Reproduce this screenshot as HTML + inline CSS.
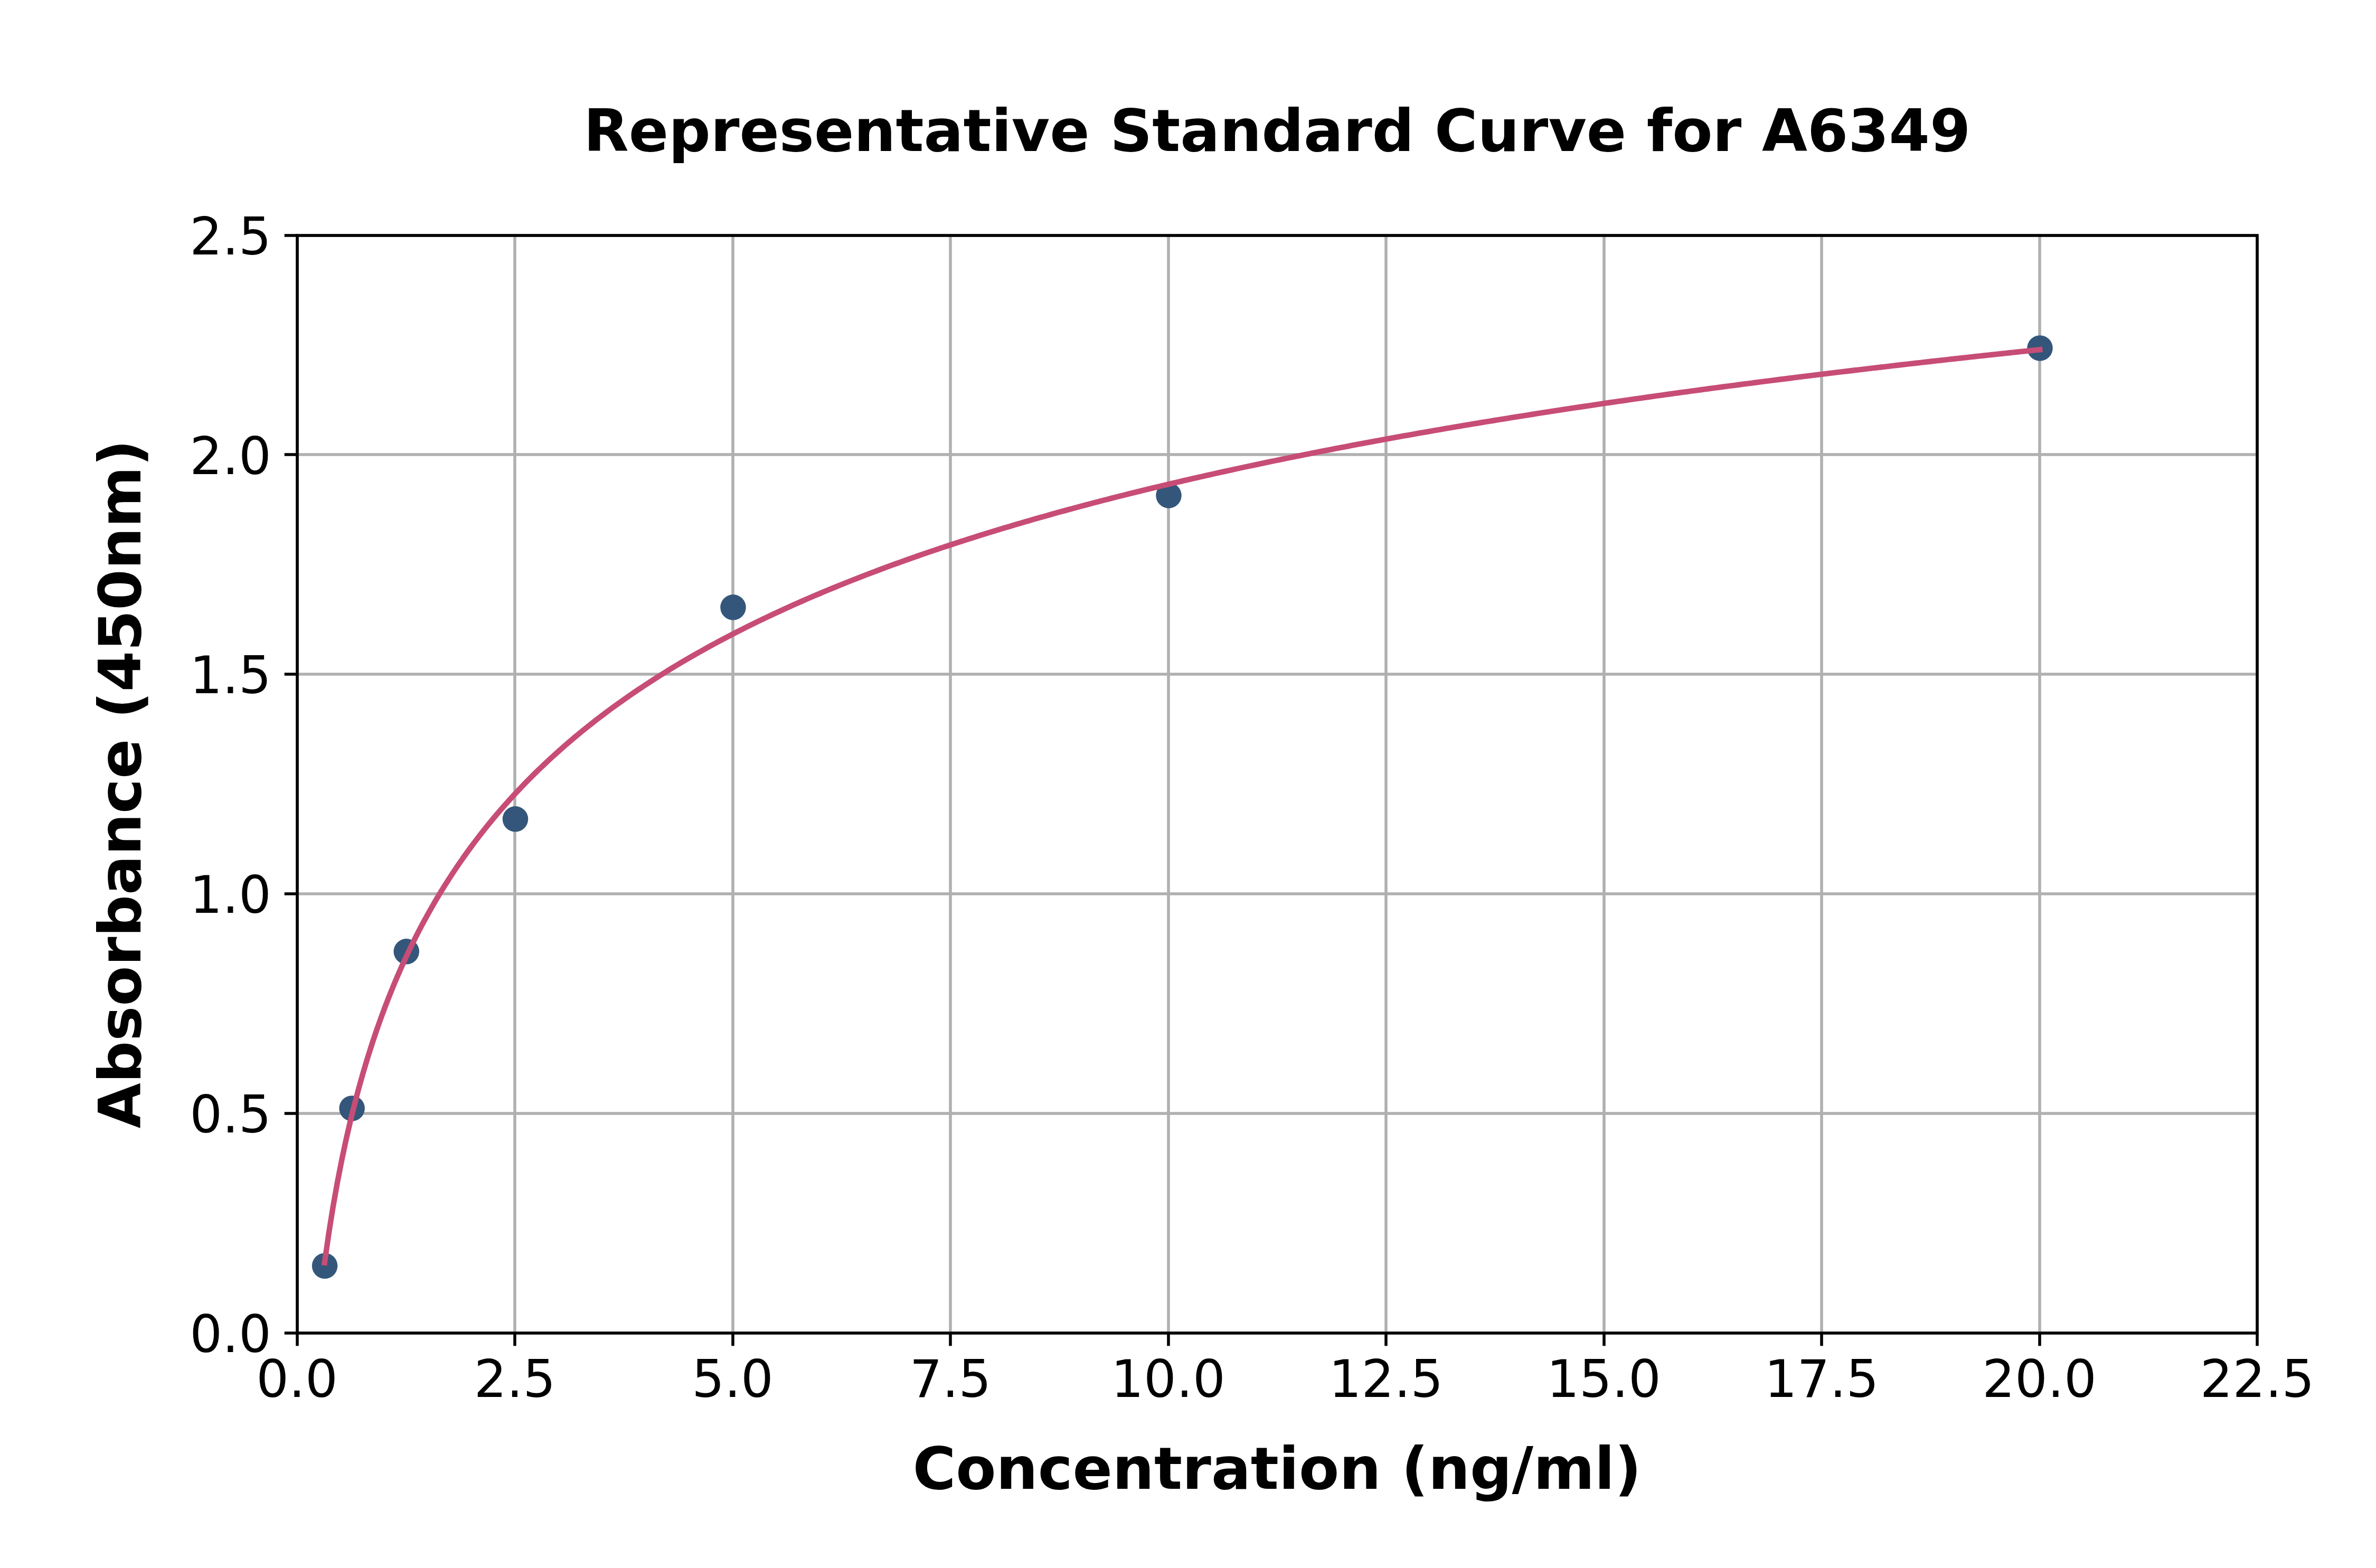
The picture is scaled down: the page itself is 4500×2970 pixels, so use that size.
<!DOCTYPE html>
<html lang="en"><head><meta charset="utf-8"><title>Representative Standard Curve for A6349</title>
<style>html,body{margin:0;padding:0;background:#fff;}body{width:4500px;height:2970px;overflow:hidden;}svg{display:block;}text{font-family:"DejaVu Sans","Liberation Sans",sans-serif;fill:#000;}.tk{font-size:97.22px;}.b{font-size:111.11px;font-weight:bold;}</style></head><body>
<svg width="4500" height="2970" viewBox="0 0 4500 2970">
<rect width="4500" height="2970" fill="#fff"/>
<g stroke="#b0b0b0" stroke-width="5.56" fill="none">
<line x1="563" y1="445.5" x2="563" y2="2524.5"/>
<line x1="975" y1="445.5" x2="975" y2="2524.5"/>
<line x1="1388" y1="445.5" x2="1388" y2="2524.5"/>
<line x1="1800" y1="445.5" x2="1800" y2="2524.5"/>
<line x1="2213" y1="445.5" x2="2213" y2="2524.5"/>
<line x1="2625" y1="445.5" x2="2625" y2="2524.5"/>
<line x1="3038" y1="445.5" x2="3038" y2="2524.5"/>
<line x1="3450" y1="445.5" x2="3450" y2="2524.5"/>
<line x1="3863" y1="445.5" x2="3863" y2="2524.5"/>
<line x1="4275" y1="445.5" x2="4275" y2="2524.5"/>
<line x1="562.5" y1="2525" x2="4275" y2="2525"/>
<line x1="562.5" y1="2109" x2="4275" y2="2109"/>
<line x1="562.5" y1="1693" x2="4275" y2="1693"/>
<line x1="562.5" y1="1277" x2="4275" y2="1277"/>
<line x1="562.5" y1="861" x2="4275" y2="861"/>
<line x1="562.5" y1="446" x2="4275" y2="446"/>
</g>
<g fill="#34567a">
<circle cx="615.06" cy="2397.76" r="24.25"/>
<circle cx="666.62" cy="2099.39" r="24.25"/>
<circle cx="769.75" cy="1802.34" r="24.25"/>
<circle cx="976.00" cy="1551.36" r="24.25"/>
<circle cx="1388.50" cy="1150.36" r="24.25"/>
<circle cx="2213.50" cy="938.47" r="24.25"/>
<circle cx="3863.50" cy="659.47" r="24.25"/>
</g>
<polyline points="614.76,2391.57 622.90,2334.71 631.05,2284.07 639.19,2238.41 647.33,2196.82 655.47,2158.61 663.61,2123.28 671.75,2090.43 679.89,2059.72 688.04,2030.90 696.18,2003.75 704.32,1978.08 712.46,1953.75 720.60,1930.62 728.74,1908.59 736.88,1887.55 745.03,1867.42 753.17,1848.13 761.31,1829.62 769.45,1811.82 777.59,1794.68 785.73,1778.15 793.87,1762.21 802.02,1746.80 810.16,1731.89 818.30,1717.46 826.44,1703.47 834.58,1689.90 842.72,1676.73 850.86,1663.94 859.01,1651.49 867.15,1639.39 875.29,1627.60 883.43,1616.12 891.57,1604.93 899.71,1594.01 907.85,1583.35 916.00,1572.95 924.14,1562.79 932.28,1552.86 940.42,1543.14 948.56,1533.64 956.70,1524.35 964.84,1515.24 972.99,1506.33 981.13,1497.59 989.27,1489.03 997.41,1480.63 1005.55,1472.40 1013.69,1464.32 1021.83,1456.39 1029.98,1448.61 1038.12,1440.96 1046.26,1433.46 1054.40,1426.08 1062.54,1418.83 1070.68,1411.70 1078.83,1404.69 1086.97,1397.79 1095.11,1391.01 1103.25,1384.34 1111.39,1377.77 1119.53,1371.30 1127.67,1364.93 1135.82,1358.66 1143.96,1352.48 1152.10,1346.40 1160.24,1340.40 1168.38,1334.49 1176.52,1328.66 1184.66,1322.91 1192.81,1317.25 1200.95,1311.66 1209.09,1306.15 1217.23,1300.71 1225.37,1295.34 1233.51,1290.05 1241.65,1284.82 1249.80,1279.66 1257.94,1274.56 1266.08,1269.53 1274.22,1264.57 1282.36,1259.66 1290.50,1254.81 1298.64,1250.02 1306.79,1245.29 1314.93,1240.61 1323.07,1235.99 1331.21,1231.42 1339.35,1226.91 1347.49,1222.44 1355.63,1218.03 1363.78,1213.66 1371.92,1209.34 1380.06,1205.07 1388.20,1200.85 1396.34,1196.67 1404.48,1192.54 1412.62,1188.45 1420.77,1184.40 1428.91,1180.40 1437.05,1176.43 1445.19,1172.51 1453.33,1168.62 1461.47,1164.78 1469.61,1160.97 1477.76,1157.20 1485.90,1153.47 1494.04,1149.77 1502.18,1146.11 1510.32,1142.48 1518.46,1138.89 1526.60,1135.33 1534.75,1131.81 1542.89,1128.31 1551.03,1124.85 1559.17,1121.42 1567.31,1118.03 1575.45,1114.66 1583.59,1111.32 1591.74,1108.01 1599.88,1104.73 1608.02,1101.48 1616.16,1098.26 1624.30,1095.07 1632.44,1091.90 1640.58,1088.76 1648.73,1085.65 1656.87,1082.56 1665.01,1079.50 1673.15,1076.46 1681.29,1073.45 1689.43,1070.46 1697.58,1067.49 1705.72,1064.55 1713.86,1061.64 1722.00,1058.74 1730.14,1055.87 1738.28,1053.03 1746.42,1050.20 1754.57,1047.40 1762.71,1044.61 1770.85,1041.85 1778.99,1039.11 1787.13,1036.39 1795.27,1033.69 1803.41,1031.01 1811.56,1028.35 1819.70,1025.71 1827.84,1023.09 1835.98,1020.49 1844.12,1017.91 1852.26,1015.34 1860.40,1012.80 1868.55,1010.27 1876.69,1007.76 1884.83,1005.26 1892.97,1002.79 1901.11,1000.33 1909.25,997.89 1917.39,995.47 1925.54,993.06 1933.68,990.67 1941.82,988.29 1949.96,985.93 1958.10,983.59 1966.24,981.26 1974.38,978.95 1982.53,976.65 1990.67,974.37 1998.81,972.10 2006.95,969.85 2015.09,967.61 2023.23,965.38 2031.37,963.17 2039.52,960.98 2047.66,958.79 2055.80,956.62 2063.94,954.47 2072.08,952.33 2080.22,950.20 2088.36,948.08 2096.51,945.98 2104.65,943.89 2112.79,941.81 2120.93,939.75 2129.07,937.70 2137.21,935.66 2145.35,933.63 2153.50,931.61 2161.64,929.61 2169.78,927.62 2177.92,925.64 2186.06,923.67 2194.20,921.71 2202.34,919.76 2210.49,917.83 2218.63,915.90 2226.77,913.99 2234.91,912.09 2243.05,910.19 2251.19,908.31 2259.33,906.44 2267.48,904.58 2275.62,902.73 2283.76,900.89 2291.90,899.06 2300.04,897.24 2308.18,895.43 2316.32,893.63 2324.47,891.84 2332.61,890.06 2340.75,888.28 2348.89,886.52 2357.03,884.77 2365.17,883.03 2373.32,881.29 2381.46,879.56 2389.60,877.85 2397.74,876.14 2405.88,874.44 2414.02,872.75 2422.16,871.07 2430.31,869.40 2438.45,867.73 2446.59,866.07 2454.73,864.43 2462.87,862.79 2471.01,861.16 2479.15,859.53 2487.30,857.92 2495.44,856.31 2503.58,854.71 2511.72,853.12 2519.86,851.53 2528.00,849.96 2536.14,848.39 2544.29,846.83 2552.43,845.28 2560.57,843.73 2568.71,842.19 2576.85,840.66 2584.99,839.13 2593.13,837.62 2601.28,836.11 2609.42,834.60 2617.56,833.11 2625.70,831.62 2633.84,830.14 2641.98,828.66 2650.12,827.19 2658.27,825.73 2666.41,824.28 2674.55,822.83 2682.69,821.39 2690.83,819.95 2698.97,818.52 2707.11,817.10 2715.26,815.68 2723.40,814.27 2731.54,812.87 2739.68,811.47 2747.82,810.08 2755.96,808.70 2764.10,807.32 2772.25,805.94 2780.39,804.58 2788.53,803.21 2796.67,801.86 2804.81,800.51 2812.95,799.17 2821.09,797.83 2829.24,796.49 2837.38,795.17 2845.52,793.85 2853.66,792.53 2861.80,791.22 2869.94,789.92 2878.08,788.62 2886.23,787.32 2894.37,786.03 2902.51,784.75 2910.65,783.47 2918.79,782.20 2926.93,780.93 2935.07,779.67 2943.22,778.41 2951.36,777.16 2959.50,775.91 2967.64,774.67 2975.78,773.44 2983.92,772.20 2992.07,770.98 3000.21,769.75 3008.35,768.54 3016.49,767.32 3024.63,766.12 3032.77,764.91 3040.91,763.71 3049.06,762.52 3057.20,761.33 3065.34,760.15 3073.48,758.97 3081.62,757.79 3089.76,756.62 3097.90,755.45 3106.05,754.29 3114.19,753.13 3122.33,751.98 3130.47,750.83 3138.61,749.69 3146.75,748.55 3154.89,747.41 3163.04,746.28 3171.18,745.15 3179.32,744.03 3187.46,742.91 3195.60,741.80 3203.74,740.68 3211.88,739.58 3220.03,738.48 3228.17,737.38 3236.31,736.28 3244.45,735.19 3252.59,734.10 3260.73,733.02 3268.87,731.94 3277.02,730.87 3285.16,729.80 3293.30,728.73 3301.44,727.67 3309.58,726.61 3317.72,725.55 3325.86,724.50 3334.01,723.45 3342.15,722.40 3350.29,721.36 3358.43,720.32 3366.57,719.29 3374.71,718.26 3382.85,717.23 3391.00,716.21 3399.14,715.19 3407.28,714.17 3415.42,713.16 3423.56,712.15 3431.70,711.15 3439.84,710.14 3447.99,709.14 3456.13,708.15 3464.27,707.16 3472.41,706.17 3480.55,705.18 3488.69,704.20 3496.83,703.22 3504.98,702.24 3513.12,701.27 3521.26,700.30 3529.40,699.34 3537.54,698.37 3545.68,697.41 3553.82,696.46 3561.97,695.50 3570.11,694.55 3578.25,693.60 3586.39,692.66 3594.53,691.72 3602.67,690.78 3610.82,689.85 3618.96,688.91 3627.10,687.98 3635.24,687.06 3643.38,686.14 3651.52,685.21 3659.66,684.30 3667.81,683.38 3675.95,682.47 3684.09,681.56 3692.23,680.66 3700.37,679.75 3708.51,678.85 3716.65,677.96 3724.80,677.06 3732.94,676.17 3741.08,675.28 3749.22,674.39 3757.36,673.51 3765.50,672.63 3773.64,671.75 3781.79,670.88 3789.93,670.00 3798.07,669.13 3806.21,668.27 3814.35,667.40 3822.49,666.54 3830.63,665.68 3838.78,664.82 3846.92,663.97 3855.06,663.11 3863.20,662.27" fill="none" stroke="#c74d76" stroke-width="10.42" stroke-linecap="square" stroke-linejoin="round"/>
<g stroke="#000" stroke-width="5.56" fill="none" stroke-linecap="square">
<rect x="563" y="446" width="3712" height="2079"/>
</g>
<g stroke="#000" stroke-width="5.56" fill="none">
<line x1="563" y1="2525" x2="563" y2="2549.3"/>
<line x1="975" y1="2525" x2="975" y2="2549.3"/>
<line x1="1388" y1="2525" x2="1388" y2="2549.3"/>
<line x1="1800" y1="2525" x2="1800" y2="2549.3"/>
<line x1="2213" y1="2525" x2="2213" y2="2549.3"/>
<line x1="2625" y1="2525" x2="2625" y2="2549.3"/>
<line x1="3038" y1="2525" x2="3038" y2="2549.3"/>
<line x1="3450" y1="2525" x2="3450" y2="2549.3"/>
<line x1="3863" y1="2525" x2="3863" y2="2549.3"/>
<line x1="4275" y1="2525" x2="4275" y2="2549.3"/>
<line x1="538.7" y1="2525" x2="563" y2="2525"/>
<line x1="538.7" y1="2109" x2="563" y2="2109"/>
<line x1="538.7" y1="1693" x2="563" y2="1693"/>
<line x1="538.7" y1="1277" x2="563" y2="1277"/>
<line x1="538.7" y1="861" x2="563" y2="861"/>
<line x1="538.7" y1="446" x2="563" y2="446"/>
</g>
<g class="tk" text-anchor="middle">
<text x="562.50" y="2646.3">0.0</text>
<text x="975.00" y="2646.3">2.5</text>
<text x="1387.50" y="2646.3">5.0</text>
<text x="1800.00" y="2646.3">7.5</text>
<text x="2212.50" y="2646.3">10.0</text>
<text x="2625.00" y="2646.3">12.5</text>
<text x="3037.50" y="2646.3">15.0</text>
<text x="3450.00" y="2646.3">17.5</text>
<text x="3862.50" y="2646.3">20.0</text>
<text x="4275.00" y="2646.3">22.5</text>
</g>
<g class="tk" text-anchor="end">
<text x="513.9" y="2560.80">0.0</text>
<text x="513.9" y="2145.00">0.5</text>
<text x="513.9" y="1729.20">1.0</text>
<text x="513.9" y="1313.40">1.5</text>
<text x="513.9" y="897.60">2.0</text>
<text x="513.9" y="481.80">2.5</text>
</g>
<text class="b" text-anchor="middle" x="2418.75" y="286.3">Representative Standard Curve for A6349</text>
<text class="b" text-anchor="middle" x="2418.75" y="2820">Concentration (ng/ml)</text>
<text class="b" text-anchor="middle" transform="translate(265.7,1485.00) rotate(-90)">Absorbance (450nm)</text>
</svg></body></html>
